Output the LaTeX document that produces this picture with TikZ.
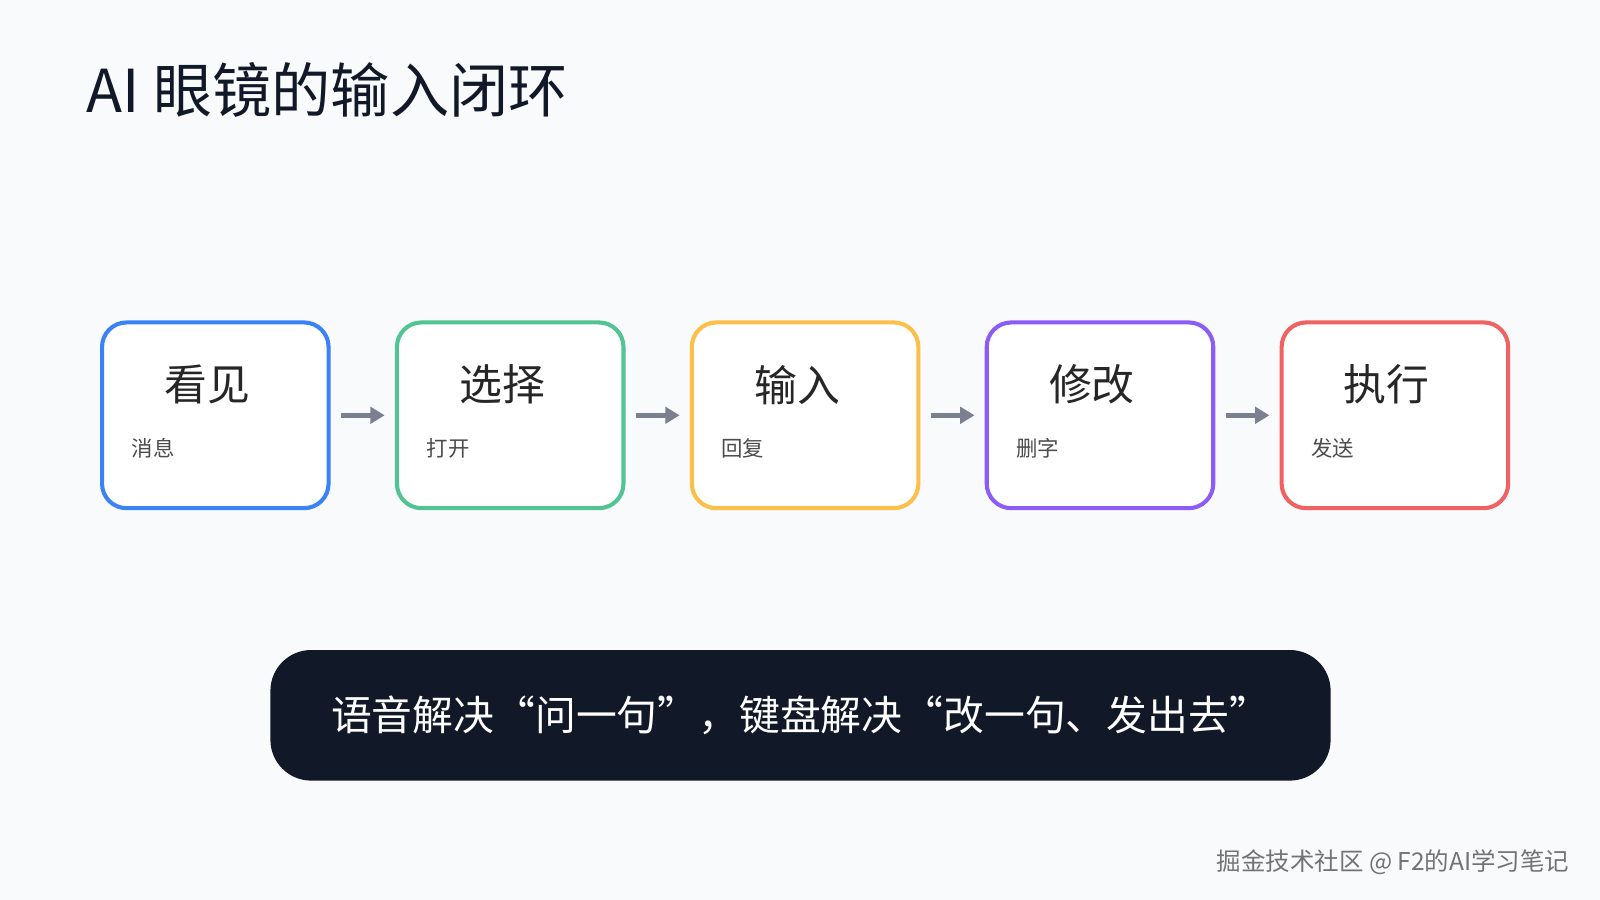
\documentclass[tikz,border=0pt]{standalone}
\usepackage{fontspec}
\setmainfont{Noto Sans CJK SC}
\usetikzlibrary{arrows.meta}
\definecolor{bg}{HTML}{F8FAFC}
\definecolor{cA}{HTML}{3B82F6}
\definecolor{cB}{HTML}{52C494}
\definecolor{cC}{HTML}{FBBF4A}
\definecolor{cD}{HTML}{8B5CF6}
\definecolor{cE}{HTML}{F06262}
\definecolor{dark}{HTML}{111827}
\definecolor{arr}{HTML}{7A8090}
\begin{document}
\begin{tikzpicture}[x=0.5pt,y=-0.5pt,
 box/.style={draw=#1,line width=2pt,rounded corners=12pt,fill=white,minimum width=111pt,minimum height=91pt,inner sep=0pt},
 ttl/.style={anchor=west,font=\fontsize{21}{24}\selectfont,text=black!85},
 sub/.style={anchor=west,font=\fontsize{10.5}{12}\selectfont,text=black!70},
 ar/.style={draw=arr,line width=2.5pt,-{Triangle[length=7pt,width=8pt]}}]
\fill[bg] (0,0) rectangle (1568,882);
\useasboundingbox (0,0) rectangle (1568,882);
\node[anchor=west,font=\fontsize{29}{32}\selectfont,text=dark] (title) at (78,88) {AI 眼镜的输入闭环};
\foreach \i/\c/\t/\s in {0/cA/看见/消息 / 字幕 / 导航,1/cB/选择/打开 / 切换 / 确认,2/cC/输入/回复 / 搜索 / 记录,3/cD/修改/删字 / 改语气 / 调整,4/cE/执行/发送 / 保存 / 调用应用}{
 \node[box=\c] (b\i) at (211+289*\i,407) {};
 \node[ttl] (t\i) at (154+289*\i,377) {\t};
 \node[sub] (s\i) at (122+289*\i,439) {\s};
}
\foreach \i/\j in {0/1,1/2,2/3,3/4}{
 \draw[ar] ([xshift=5pt]b\i.east) -- ([xshift=-5pt]b\j.west);
}
\node[fill=dark,rounded corners=20pt,minimum width=519.5pt,minimum height=64pt,text=white,font=\fontsize{20}{24}\selectfont] (bar) at (784.5,701) {语音解决“问一句”，键盘解决“改一句、发出去”};
\node[anchor=east,font=\fontsize{12}{14}\selectfont,text=black!55] (wm) at (1545,845) {掘金技术社区 @ F2的AI学习笔记};
\end{tikzpicture}
\end{document}
